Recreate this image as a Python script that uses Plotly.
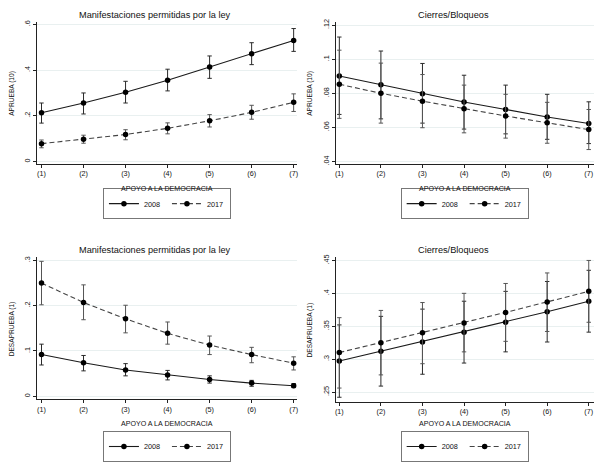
import plotly.graph_objects as go

categories = [1, 2, 3, 4, 5, 6, 7]
cat_labels = ["(1)", "(2)", "(3)", "(4)", "(5)", "(6)", "(7)"]
years = ["2008", "2017"]

# Panel 1: APRUEBA (10) - Manifestaciones permitidas por la ley
p1_2008 = [0.213, 0.256, 0.303, 0.356, 0.414, 0.472, 0.530]
p1_2008_hi = [0.256, 0.300, 0.351, 0.404, 0.462, 0.520, 0.582]
p1_2008_lo = [0.168, 0.208, 0.256, 0.309, 0.364, 0.424, 0.482]
p1_2017 = [0.078, 0.097, 0.118, 0.145, 0.178, 0.215, 0.259]
p1_2017_hi = [0.094, 0.115, 0.139, 0.169, 0.205, 0.246, 0.296]
p1_2017_lo = [0.060, 0.080, 0.095, 0.121, 0.151, 0.185, 0.219]

# Panel 2: APRUEBA (10) - Cierres/Bloqueos
p2_2008 = [0.0901, 0.0850, 0.0798, 0.0749, 0.0705, 0.0661, 0.0623]
p2_2008_hi = [0.1130, 0.1048, 0.0975, 0.0906, 0.0848, 0.0794, 0.0750]
p2_2008_lo = [0.0676, 0.0650, 0.0625, 0.0590, 0.0562, 0.0530, 0.0505]
p2_2017 = [0.0853, 0.0800, 0.0754, 0.0710, 0.0667, 0.0627, 0.0587]
p2_2017_hi = [0.1053, 0.0977, 0.0910, 0.0848, 0.0794, 0.0747, 0.0705]
p2_2017_lo = [0.0653, 0.0625, 0.0598, 0.0568, 0.0537, 0.0507, 0.0470]

# Panel 3: DESAPRUEBA (1) - Manifestaciones permitidas por la ley
p3_2008 = [0.092, 0.074, 0.058, 0.047, 0.037, 0.029, 0.023]
p3_2008_hi = [0.115, 0.090, 0.072, 0.057, 0.045, 0.035, 0.028]
p3_2008_lo = [0.069, 0.056, 0.045, 0.036, 0.029, 0.022, 0.019]
p3_2017 = [0.250, 0.207, 0.171, 0.139, 0.113, 0.092, 0.073]
p3_2017_hi = [0.298, 0.246, 0.201, 0.164, 0.133, 0.108, 0.087]
p3_2017_lo = [0.202, 0.169, 0.140, 0.115, 0.092, 0.074, 0.058]

# Panel 4: DESAPRUEBA (1) - Cierres/Bloqueos
p4_2008 = [0.297, 0.312, 0.326, 0.341, 0.356, 0.372, 0.388]
p4_2008_hi = [0.352, 0.365, 0.376, 0.388, 0.403, 0.418, 0.435]
p4_2008_lo = [0.242, 0.259, 0.277, 0.294, 0.311, 0.326, 0.341]
p4_2017 = [0.310, 0.325, 0.340, 0.355, 0.371, 0.387, 0.403]
p4_2017_hi = [0.363, 0.374, 0.386, 0.400, 0.415, 0.431, 0.450]
p4_2017_lo = [0.256, 0.276, 0.293, 0.311, 0.327, 0.342, 0.356]

titles = ["Manifestaciones permitidas por la ley", "Cierres/Bloqueos",
          "Manifestaciones permitidas por la ley", "Cierres/Bloqueos"]
ytitles = ["APRUEBA (10)", "APRUEBA (10)", "DESAPRUEBA (1)", "DESAPRUEBA (1)"]
xtitle = "APOYO A LA DEMOCRACIA"

p1_ticks = [0, 0.2, 0.4, 0.6]
p1_ticktext = ["0", ".2", ".4", ".6"]
p2_ticks = [0.04, 0.06, 0.08, 0.10, 0.12]
p2_ticktext = [".04", ".06", ".08", ".1", ".12"]
p3_ticks = [0, 0.1, 0.2, 0.3]
p3_ticktext = ["0", ".1", ".2", ".3"]
p4_ticks = [0.25, 0.30, 0.35, 0.40, 0.45]
p4_ticktext = [".25", ".3", ".35", ".4", ".45"]

W, H = 604, 462
FONT = "Liberation Sans"

panels = [
    dict(s=[(p1_2008, p1_2008_hi, p1_2008_lo), (p1_2017, p1_2017_hi, p1_2017_lo)],
         ticks=p1_ticks, ticktext=p1_ticktext, yr=[-0.0098, 0.6107],
         xd=(36, 297), yd=(19.5, 165), xr=[0.89, 7.08]),
    dict(s=[(p2_2008, p2_2008_hi, p2_2008_lo), (p2_2017, p2_2017_hi, p2_2017_lo)],
         ticks=p2_ticks, ticktext=p2_ticktext, yr=[0.03869, 0.12183],
         xd=(335.7, 594.7), yd=(19.5, 165), xr=[0.91, 7.12]),
    dict(s=[(p3_2008, p3_2008_hi, p3_2008_lo), (p3_2017, p3_2017_hi, p3_2017_lo)],
         ticks=p3_ticks, ticktext=p3_ticktext, yr=[-0.0071, 0.3071],
         xd=(36, 297), yd=(261, 407), xr=[0.89, 7.08]),
    dict(s=[(p4_2008, p4_2008_hi, p4_2008_lo), (p4_2017, p4_2017_hi, p4_2017_lo)],
         ticks=p4_ticks, ticktext=p4_ticktext, yr=[0.2353, 0.4549],
         xd=(335.7, 594.7), yd=(261, 409.3), xr=[0.91, 7.12]),
]

fig = go.Figure()
annotations = []
line_styles = [dict(color="#1a1a1a", width=1.1, dash="solid"),
               dict(color="#444444", width=1.1, dash="5px,3px")]
err_colors = ["#2a2a2a", "#555555"]

for i, p in enumerate(panels):
    n = i + 1
    xa = "x" if n == 1 else f"x{n}"
    ya = "y" if n == 1 else f"y{n}"
    lg = "legend" if n == 1 else f"legend{n}"
    for j, (c, hi, lo) in enumerate(p["s"]):
        fig.add_trace(go.Scatter(
            x=categories, y=c, mode="lines+markers", name=years[j],
            xaxis=xa, yaxis=ya, legend=lg,
            line=line_styles[j],
            marker=dict(color="black", size=5.5, symbol="circle"),
            error_y=dict(type="data", symmetric=False,
                         array=[h - v for h, v in zip(hi, c)],
                         arrayminus=[v - l for v, l in zip(c, lo)],
                         color=err_colors[j], thickness=1, width=2.2),
        ))
    x0, x1 = p["xd"]
    y0, y1 = p["yd"]
    xkey = "xaxis" if n == 1 else f"xaxis{n}"
    ykey = "yaxis" if n == 1 else f"yaxis{n}"
    fig.update_layout(**{
        xkey: dict(domain=[x0 / W, x1 / W], anchor=ya, range=p["xr"],
                   tickvals=categories, ticktext=cat_labels,
                   ticks="outside", ticklen=3, tickcolor="#222", tickwidth=1,
                   showline=True, linecolor="#222", linewidth=1,
                   showgrid=False, zeroline=False,
                   tickfont=dict(family=FONT, size=7.2, color="#111")),
        ykey: dict(domain=[1 - y1 / H, 1 - y0 / H], anchor=xa, range=p["yr"],
                   tickvals=p["ticks"], ticktext=p["ticktext"], tickangle=-90,
                   ticks="outside", ticklen=3, tickcolor="#222", tickwidth=1,
                   showline=True, linecolor="#222", linewidth=1,
                   showgrid=True, gridcolor="#e9f0f0", gridwidth=1,
                   zeroline=False,
                   tickfont=dict(family=FONT, size=7.2, color="#111")),
        lg: dict(x=(x0 + x1) / 2 / W, y=1 - ((206 if n <= 2 else 455.5) / H),
                 xanchor="center", yanchor="middle", orientation="h",
                 bordercolor="#777", borderwidth=1, bgcolor="white",
                 font=dict(family=FONT, size=7.3, color="#111"),
                 itemwidth=30, tracegroupgap=0, entrywidth=18),
    })
    # panel title
    ty = 12.7 if n <= 2 else 253.7
    tx = 155 if n % 2 == 1 else 454.5
    annotations.append(dict(text=titles[i], x=tx / W, y=1 - ty / H, xref="paper", yref="paper",
                            showarrow=False, xanchor="center", yanchor="middle",
                            font=dict(family=FONT, size=9.2, color="#111")))
    # x title
    xty = 191 if n <= 2 else 432.7
    annotations.append(dict(text=xtitle, x=(x0 + x1) / 2 / W, y=1 - xty / H, xref="paper", yref="paper",
                            showarrow=False, xanchor="center", yanchor="middle",
                            font=dict(family=FONT, size=7.1, color="#111")))
    # y title
    ytx = 11 if n % 2 == 1 else 310
    annotations.append(dict(text=ytitles[i], x=ytx / W, y=1 - ((y0 + y1) / 2) / H, xref="paper", yref="paper",
                            showarrow=False, xanchor="center", yanchor="middle", textangle=-90,
                            font=dict(family=FONT, size=6.6, color="#111")))

fig.update_layout(width=W, height=H, margin=dict(l=0, r=0, t=0, b=0),
                  paper_bgcolor="white", plot_bgcolor="white",
                  annotations=annotations, showlegend=True, hovermode=False)

fig.write_html("out.html", config={"displayModeBar": False},
               post_script="document.body.style.margin='0';document.body.style.overflow='hidden';")
